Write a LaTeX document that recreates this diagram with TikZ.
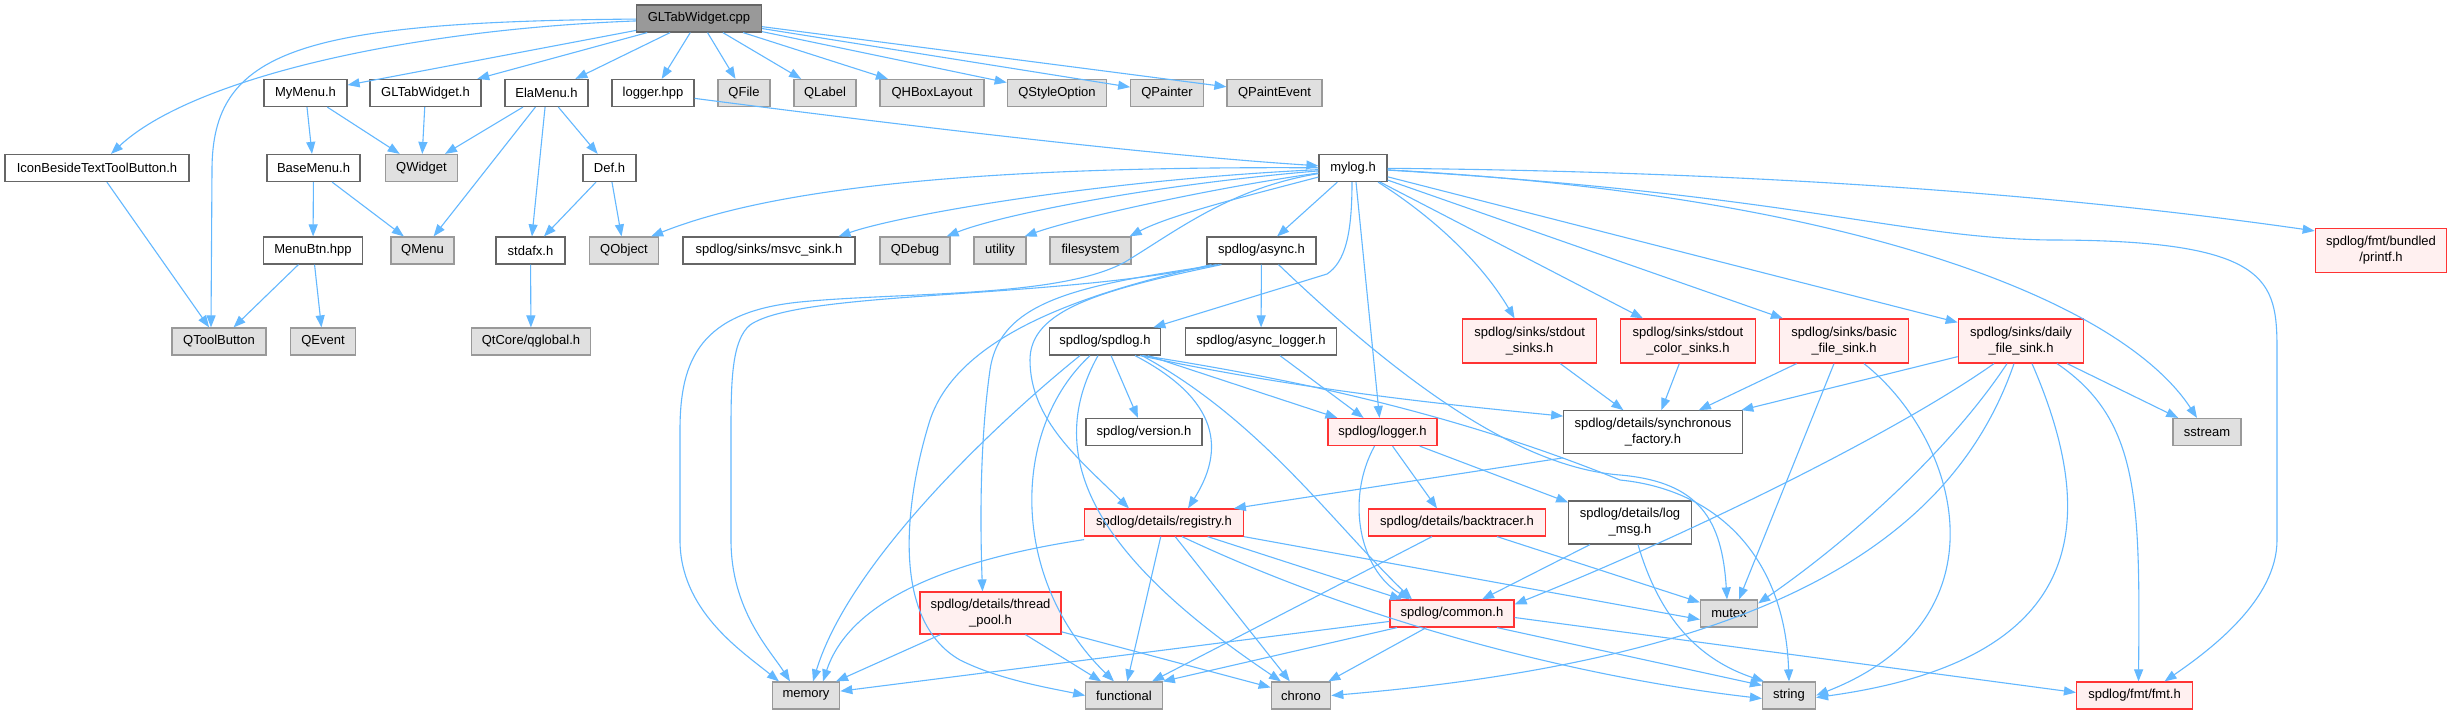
\documentclass[tikz,border=0pt]{standalone}
\usepackage{fontspec}
\setmainfont{Liberation Sans}
\usetikzlibrary{arrows.meta}
\definecolor{edgec}{HTML}{63B8FF}
\definecolor{gfill}{HTML}{E0E0E0}
\definecolor{gborder}{HTML}{999999}
\definecolor{wborder}{HTML}{666666}
\definecolor{rfill}{HTML}{FFF0F0}
\definecolor{rborder}{HTML}{FF3333}
\definecolor{rootfill}{HTML}{999999}
\begin{document}
\begin{tikzpicture}[x=1pt,y=-1pt,
  box/.style={draw, line width=1.2pt, inner sep=0pt, minimum height=27pt, align=center, font=\fontsize{13}{16}\selectfont},
  wbox/.style={box, draw=wborder, fill=white},
  gbox/.style={box, draw=gborder, fill=gfill},
  rbox/.style={box, draw=rborder, fill=rfill},
  rootbox/.style={box, draw=wborder, fill=rootfill},
  tall/.style={minimum height=44pt},
  edge/.style={draw=edgec, line width=1.1pt, -{Triangle[length=12pt,width=9pt]}},
]
\fill[white] (0,0) rectangle (2453,715);
\useasboundingbox (0,0) rectangle (2453,715);

% row 1
\node[rootbox, minimum width=125pt] (cpp) at (699,18.5) {GLTabWidget.cpp};
\node[wbox, minimum width=83pt] (mymenu) at (305.5,93) {MyMenu.h};
\node[wbox, minimum width=111pt] (gltabh) at (425.5,93) {GLTabWidget.h};
\node[wbox, minimum width=83pt] (elamenu) at (546.5,93) {ElaMenu.h};
\node[wbox, minimum width=82pt] (loggerhpp) at (653,93) {logger.hpp};
\node[gbox, minimum width=52pt] (qfile) at (744,93) {QFile};
\node[gbox, minimum width=62pt] (qlabel) at (825,93) {QLabel};
\node[gbox, minimum width=104pt] (qhbox) at (932,93) {QHBoxLayout};
\node[gbox, minimum width=99.5pt] (qstyle) at (1057,93) {QStyleOption};
\node[gbox, minimum width=72.5pt] (qpainter) at (1167,93) {QPainter};
\node[gbox, minimum width=95pt] (qpaintevent) at (1274.5,93) {QPaintEvent};
% row 2
\node[wbox, minimum width=184pt] (iconbeside) at (97,168) {IconBesideTextToolButton.h};
\node[wbox, minimum width=93pt] (basemenu) at (313.5,168) {BaseMenu.h};
\node[gbox, minimum width=72pt] (qwidget) at (421.5,168) {QWidget};
\node[wbox, minimum width=53pt] (defh) at (609.5,168) {Def.h};
\node[wbox, minimum width=68pt] (mylog) at (1353,168) {mylog.h};
% row 3
\node[wbox, minimum width=98.5pt] (menubtn) at (313,250.5) {MenuBtn.hpp};
\node[gbox, minimum width=63pt] (qmenu) at (422.5,250.5) {QMenu};
\node[wbox, minimum width=69pt] (stdafx) at (530.5,250.5) {stdafx.h};
\node[gbox, minimum width=69pt] (qobject) at (624,250.5) {QObject};
\node[wbox, minimum width=172pt] (msvc) at (769,250.5) {spdlog/sinks/msvc\_sink.h};
\node[gbox, minimum width=70pt] (qdebug) at (915,250.5) {QDebug};
\node[gbox, minimum width=52pt] (utility) at (1000,250.5) {utility};
\node[gbox, minimum width=81pt] (filesystem) at (1090.5,250.5) {filesystem};
\node[wbox, minimum width=109pt] (async) at (1261.5,250.5) {spdlog/async.h};
\node[rbox, tall, minimum width=131.5pt] (printf) at (2381,250.5) {spdlog/fmt/bundled\\/printf.h};
% row 4
\node[gbox, minimum width=94pt] (qtoolbutton) at (219,341.5) {QToolButton};
\node[gbox, minimum width=65.5pt] (qevent) at (323,341.5) {QEvent};
\node[gbox, minimum width=119.5pt] (qglobal) at (531,341.5) {QtCore/qglobal.h};
\node[wbox, minimum width=111.5pt] (spdlogh) at (1105,341.5) {spdlog/spdlog.h};
\node[wbox, minimum width=151.5pt] (asynclogger) at (1261,341.5) {spdlog/async\_logger.h};
\node[rbox, tall, minimum width=134pt] (stdoutsinks) at (1529.6,341) {spdlog/sinks/stdout\\\_sinks.h};
\node[rbox, tall, minimum width=135pt] (colorsinks) at (1688,341) {spdlog/sinks/stdout\\\_color\_sinks.h};
\node[rbox, tall, minimum width=129pt] (basicsink) at (1844,341) {spdlog/sinks/basic\\\_file\_sink.h};
\node[rbox, tall, minimum width=125.5pt] (dailysink) at (2021,341) {spdlog/sinks/daily\\\_file\_sink.h};
% row 5
\node[wbox, minimum width=116pt] (version) at (1144,432) {spdlog/version.h};
\node[rbox, minimum width=109pt] (loggerh) at (1382.5,432) {spdlog/logger.h};
\node[wbox, tall, minimum width=178.5pt, minimum height=42.5pt] (syncfactory) at (1653,432) {spdlog/details/synchronous\\\_factory.h};
\node[gbox, minimum width=68pt] (sstream) at (2207,432) {sstream};
% row 6
\node[rbox, minimum width=158.5pt] (registry) at (1164,522.5) {spdlog/details/registry.h};
\node[rbox, minimum width=177.5pt] (backtracer) at (1457,522.5) {spdlog/details/backtracer.h};
\node[wbox, tall, minimum width=122.5pt, minimum height=43pt] (logmsg) at (1630,522.5) {spdlog/details/log\\\_msg.h};
% row 7
\node[rbox, tall, minimum width=141pt, minimum height=42pt] (threadpool) at (990.5,613) {spdlog/details/thread\\\_pool.h};
\node[rbox, minimum width=124pt] (common) at (1452,613.5) {spdlog/common.h};
\node[gbox, minimum width=57pt] (mutex) at (1729,613.5) {mutex};
% row 8
\node[gbox, minimum width=67.5pt] (memory) at (806,695.5) {memory};
\node[gbox, minimum width=76.5pt] (functional) at (1124,695.5) {functional};
\node[gbox, minimum width=59.5pt] (chrono) at (1301,695.5) {chrono};
\node[gbox, minimum width=53pt] (string) at (1789,695.5) {string};
\node[rbox, minimum width=116pt] (fmt) at (2134.5,695.5) {spdlog/fmt/fmt.h};

% ---- edges from GLTabWidget.cpp
\draw[edge] (cpp) .. controls (400,30) and (190,80) .. ([xshift=14pt]iconbeside.north);
\draw[edge] (cpp) .. controls (300,22) and (212,50) .. (212,170) -- ([xshift=-8pt]qtoolbutton.north);
\draw[edge] (cpp) -- (mymenu);
\draw[edge] (cpp) -- (gltabh);
\draw[edge] (cpp) -- (elamenu);
\draw[edge] (cpp) -- (loggerhpp);
\draw[edge] (cpp) -- (qfile);
\draw[edge] (cpp) -- (qlabel);
\draw[edge] (cpp) -- (qhbox);
\draw[edge] (cpp) -- (qstyle);
\draw[edge] (cpp) -- (qpainter);
\draw[edge] (cpp) -- (qpaintevent);
% ---- Qt side
\draw[edge] (iconbeside) -- (qtoolbutton);
\draw[edge] (mymenu) -- (basemenu);
\draw[edge] (mymenu) -- (qwidget);
\draw[edge] (gltabh) -- (qwidget);
\draw[edge] (elamenu) -- (qwidget);
\draw[edge] (elamenu) -- (qmenu);
\draw[edge] (elamenu) -- (stdafx);
\draw[edge] (elamenu) -- (defh);
\draw[edge] (basemenu) -- (menubtn);
\draw[edge] (basemenu) -- (qmenu);
\draw[edge] (menubtn) -- (qtoolbutton);
\draw[edge] (menubtn) -- (qevent);
\draw[edge] (defh) -- (stdafx);
\draw[edge] (defh) -- (qobject);
\draw[edge] (stdafx) -- (qglobal);
\draw[edge] (loggerhpp) .. controls (900,125) and (1150,155) .. (mylog);
% ---- mylog.h
\draw[edge] (mylog) .. controls (1000,166) and (780,185) .. ([xshift=-8pt]qobject.north east);
\draw[edge] (mylog) .. controls (1100,180) and (900,215) .. ([xshift=-17pt]msvc.north east);
\draw[edge] (mylog) .. controls (1150,185) and (1000,215) .. ([xshift=-4pt]qdebug.north east);
\draw[edge] (mylog) .. controls (1200,190) and (1070,220) .. ([xshift=-2pt]utility.north east);
\draw[edge] (mylog) .. controls (1250,195) and (1170,215) .. ([xshift=-2pt]filesystem.north east);
\draw[edge] (mylog) -- (async);
\draw[edge] ([xshift=-1pt]mylog.south) .. controls (1352,235) and (1345,262) .. (1327,274) -- ([xshift=-8pt]spdlogh.north east);
\draw[edge] ([xshift=3pt]mylog.south) -- ([xshift=-3pt]loggerh.north);
\draw[edge] ([xshift=25pt]mylog.south) .. controls (1430,215) and (1480,260) .. ([xshift=-15pt]stdoutsinks.north);
\draw[edge] (mylog) -- ([xshift=-45pt]colorsinks.north);
\draw[edge] (mylog) -- ([xshift=4pt]basicsink.north west);
\draw[edge] (mylog) -- ([yshift=-4pt]dailysink.north west);
\draw[edge] (mylog) .. controls (1800,172) and (2100,200) .. ([yshift=-3pt]printf.north west);
\draw[edge] (mylog) .. controls (1850,195) and (2120,300) .. ([xshift=-10pt]sstream.north);
\draw[edge] (mylog) .. controls (1800,195) and (1900,238) .. (2050,240) .. controls (2270,240) and (2277,280) .. (2277,350) -- (2277,540) .. controls (2277,600) and (2210,650) .. ([xshift=30pt]fmt.north);
\draw[edge] (mylog) .. controls (1230,188) and (1175,232) .. (1125,262) .. controls (1060,298) and (900,292) .. (800,302) .. controls (700,312) and (680,360) .. (680,430) -- (680,540) .. controls (680,610) and (740,650) .. ([xshift=-27pt]memory.north);
% ---- async.h
\draw[edge] (async) -- (asynclogger);
\draw[edge] ([xshift=-45pt]async.south) .. controls (1050,300) and (800,290) .. (750,325) .. controls (732,340) and (731,380) .. (731,430) -- (731,540) .. controls (731,610) and (770,650) .. ([xshift=-16pt]memory.north);
\draw[edge] ([xshift=-50pt]async.south) .. controls (1100,290) and (960,330) .. (930,420) .. controls (905,500) and (890,620) .. (960,660) .. controls (1000,680) and (1050,688) .. (functional.west);
\draw[edge] ([xshift=-40pt]async.south) .. controls (1100,290) and (1030,310) .. (1030,360) .. controls (1030,420) and (1080,460) .. ([xshift=-35pt]registry.north);
\draw[edge] ([xshift=-42pt]async.south) .. controls (1080,285) and (1000,300) .. (990,370) .. controls (980,440) and (980,520) .. ([xshift=-8pt]threadpool.north);
\draw[edge] ([xshift=17pt]async.south) .. controls (1420,400) and (1530,468) .. (1620,475) .. controls (1700,482) and (1722,520) .. ([xshift=-2pt]mutex.north);
% ---- spdlog.h
\draw[edge] (spdlogh) -- (version);
\draw[edge] (spdlogh) -- ([xshift=10pt]loggerh.north west);
\draw[edge] ([xshift=35pt]spdlogh.south) .. controls (1300,390) and (1450,405) .. ([yshift=-6pt]syncfactory.north west);
\draw[edge] ([xshift=30pt]spdlogh.south) .. controls (1220,400) and (1225,450) .. ([xshift=24pt]registry.north);
\draw[edge] ([xshift=37pt]spdlogh.south) .. controls (1260,420) and (1330,520) .. ([xshift=-40pt]common.north);
\draw[edge] ([xshift=-25pt]spdlogh.south) .. controls (1000,420) and (850,560) .. ([xshift=7pt]memory.north);
\draw[edge] ([xshift=-15pt]spdlogh.south) .. controls (1010,430) and (1010,580) .. ([xshift=-10pt]functional.north);
\draw[edge] ([xshift=-7pt]spdlogh.south) .. controls (1040,460) and (1100,560) .. ([xshift=-20pt]chrono.north);
\draw[edge] ([xshift=38pt]spdlogh.south) .. controls (1300,380) and (1460,415) .. (1620,480) .. controls (1720,490) and (1785,560) .. (string.north);
% ---- loggers
\draw[edge] (asynclogger) -- (loggerh);
\draw[edge] ([xshift=-8pt]loggerh.south) .. controls (1345,500) and (1360,570) .. ([xshift=-42pt]common.north);
\draw[edge] (loggerh) -- ([xshift=-20pt]backtracer.north);
\draw[edge] (loggerh) -- ([yshift=-2pt]logmsg.north west);
\draw[edge] ([yshift=-4pt]syncfactory.south west) -- ([xshift=-10pt]registry.north east);
% ---- sinks
\draw[edge] (stdoutsinks) -- (syncfactory);
\draw[edge] (colorsinks) -- (syncfactory);
\draw[edge] (basicsink) -- (syncfactory);
\draw[edge] (dailysink) -- (syncfactory);
\draw[edge] ([xshift=-10pt]basicsink.south) -- ([xshift=10pt]mutex.north);
\draw[edge] ([xshift=20pt]basicsink.south) .. controls (1960,440) and (2010,620) .. (string.east);
\draw[edge] ([xshift=-27pt]dailysink.south) .. controls (1900,430) and (1700,530) .. ([yshift=-5pt]common.north east);
\draw[edge] ([xshift=-14pt]dailysink.south) .. controls (1950,450) and (1850,540) .. ([yshift=-4pt]mutex.north east);
\draw[edge] ([xshift=-7pt]dailysink.south) .. controls (1950,550) and (1750,660) .. (chrono.east);
\draw[edge] ([xshift=11pt]dailysink.south) .. controls (2100,520) and (2090,660) .. ([yshift=-2pt]string.east);
\draw[edge] ([xshift=36pt]dailysink.south) .. controls (2140,420) and (2140,500) .. ([xshift=4pt]fmt.north);
\draw[edge] (dailysink) -- (sstream);
% ---- registry
\draw[edge] ([yshift=-3pt]registry.south west) .. controls (950,560) and (850,600) .. ([xshift=17pt]memory.north);
\draw[edge] (registry) -- (functional);
\draw[edge] (registry) -- (chrono);
\draw[edge] ([xshift=18pt]registry.south) .. controls (1380,630) and (1600,680) .. ([yshift=-3pt]string.west);
\draw[edge] (registry) -- ([xshift=-50pt]common.north);
\draw[edge] (registry.south east) -- ([yshift=-6pt]mutex.west);
% ---- details
\draw[edge] ([xshift=-25pt]backtracer.south) -- ([xshift=28pt]functional.north);
\draw[edge] ([xshift=40pt]backtracer.south) -- ([yshift=-3pt]mutex.north west);
\draw[edge] ([xshift=-40pt]logmsg.south) -- ([xshift=30pt]common.north);
\draw[edge] ([xshift=8pt]logmsg.south) .. controls (1660,620) and (1700,660) .. ([xshift=-25pt]string.north);
\draw[edge] ([xshift=-50pt]threadpool.south) -- ([xshift=30pt]memory.north);
\draw[edge] (threadpool) -- (functional);
\draw[edge] (threadpool) -- (chrono);
% ---- common
\draw[edge] (common) -- (memory);
\draw[edge] ([xshift=-55pt]common.south) -- (functional.north east);
\draw[edge] (common) -- ([xshift=-3pt]chrono.north east);
\draw[edge] ([xshift=45pt]common.south) -- ([yshift=-4pt]string.north west);
\draw[edge] ([yshift=-4pt]common.east) -- ([yshift=3pt]fmt.west);
\end{tikzpicture}
\end{document}
